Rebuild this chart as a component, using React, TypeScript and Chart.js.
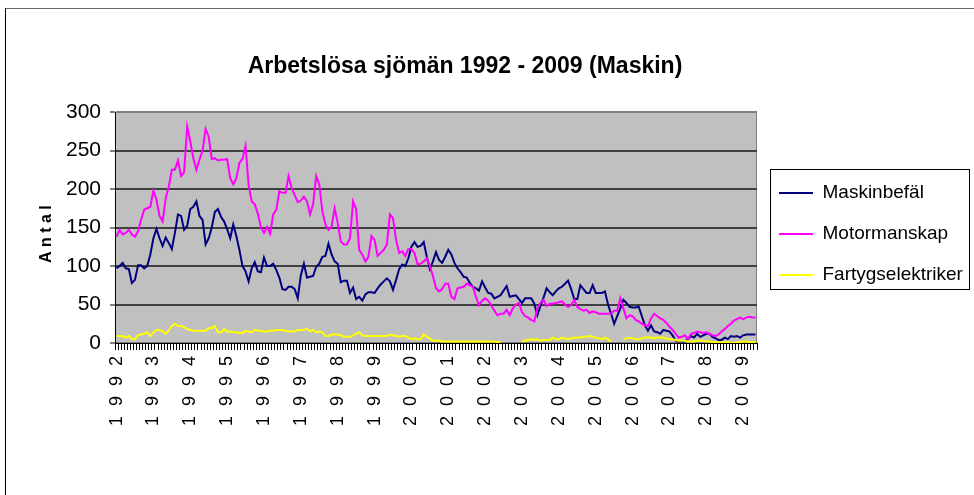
import React, { useEffect, useRef } from 'react';
import { Chart, registerables } from 'chart.js';

Chart.register(...registerables);

const FONT = "'Liberation Sans', Arial, sans-serif";

const years = [1992, 1993, 1994, 1995, 1996, 1997, 1998, 1999, 2000, 2001, 2002, 2003, 2004, 2005, 2006, 2007, 2008, 2009];

const seriesNames = ['Maskinbefäl', 'Motormanskap', 'Fartygselektriker'];

const maskinbefal = [
  97, 100, 104, 97, 96, 78, 82, 101, 101, 97, 100, 115,
  136, 148, 136, 126, 137, 130, 122, 143, 167, 165, 147, 152,
  174, 177, 184, 165, 160, 128, 136, 150, 170, 174, 164, 158,
  148, 136, 154, 139, 121, 100, 93, 80, 97, 105, 93, 92,
  111, 100, 100, 103, 95, 85, 70, 69, 73, 73, 70, 58,
  88, 103, 85, 86, 87, 99, 103, 112, 113, 129, 115, 106,
  103, 79, 81, 81, 65, 72, 57, 60, 55, 63, 66, 66,
  65, 71, 76, 80, 84, 80, 69, 82, 96, 102, 100, 110,
  125, 131, 125, 126, 131, 112, 96, 106, 118, 108, 104, 112,
  121, 115, 104, 97, 92, 86, 85, 78, 73, 71, 68, 80,
  72, 65, 64, 58, 60, 62, 68, 74, 60, 61, 62, 57,
  52, 58, 58, 58, 51, 36, 48, 59, 71, 66, 62, 67,
  71, 73, 77, 81, 70, 57, 57, 75, 70, 65, 65, 75,
  65, 65, 65, 67, 50, 38, 25, 35, 45, 56, 52, 47,
  46, 46, 47, 35, 23, 16, 23, 15, 14, 12, 17, 16,
  15, 10, 3, 2, 2, 2, 5, 9, 7, 12, 8, 10,
  12, 12, 8, 6, 4, 4, 7, 5, 9, 8, 9, 7,
  10, 11, 11, 11, 11,
];

const motormanskap = [
  138, 147, 141, 143, 147, 141, 138, 145, 160, 173, 175, 177,
  198, 186, 165, 158, 188, 203, 225, 225, 237, 217, 222, 281,
  262, 240, 225, 238, 250, 278, 268, 239, 240, 237, 238, 238,
  239, 214, 206, 214, 234, 239, 256, 205, 184, 180, 168, 150,
  143, 151, 142, 167, 173, 197, 195, 195, 217, 201, 192, 183,
  185, 190, 184, 167, 180, 217, 206, 171, 154, 147, 151, 175,
  156, 132, 128, 128, 136, 184, 174, 121, 115, 106, 112, 139,
  134, 113, 117, 121, 128, 167, 162, 134, 117, 119, 113, 122,
  122, 117, 102, 103, 106, 110, 100, 87, 71, 67, 70, 77,
  77, 60, 57, 71, 72, 73, 77, 75, 73, 60, 49, 55,
  58, 55, 49, 42, 36, 38, 38, 43, 36, 45, 50, 52,
  40, 35, 33, 30, 28, 45, 52, 56, 48, 51, 51, 52,
  53, 54, 50, 47, 49, 56, 47, 44, 42, 43, 39, 41,
  40, 38, 38, 38, 38, 38, 42, 42, 58, 45, 32, 36,
  35, 30, 28, 25, 23, 22, 32, 38, 35, 32, 30, 26,
  21, 17, 12, 7, 8, 10, 5, 12, 13, 15, 14, 13,
  14, 12, 10, 9, 11, 15, 18, 22, 25, 29, 31, 33,
  31, 33, 34, 33, 33,
];

const fartygselektriker = [
  9, 9, 9, 7, 9, 5, 5, 10, 11, 12, 14, 9,
  14, 17, 17, 15, 12, 16, 22, 25, 22, 22, 21, 18,
  17, 16, 16, 16, 16, 16, 19, 19, 22, 14, 14, 18,
  15, 15, 14, 14, 13, 13, 16, 15, 14, 17, 16, 16,
  15, 15, 16, 16, 17, 17, 17, 16, 15, 15, 15, 17,
  17, 17, 19, 15, 17, 14, 15, 14, 9, 9, 11, 11,
  11, 10, 8, 8, 8, 10, 12, 14, 10, 9, 9, 9,
  9, 9, 9, 9, 9, 11, 10, 9, 8, 9, 9, 7,
  5, 6, 5, 5, 11, 8, 6, 3, 3, 3, 2, 2,
  2, 2, 2, 2, 2, 2, 2, 2, 2, 2, 2, 2,
  2, 2, 2, 2, 1, 2, null, null, null, null, null, null,
  2, 3, 4, 5, 4, 5, 3, 4, 4, 4, 7, 5,
  5, 7, 6, 5, 6, 7, 7, 7, 8, 8, 9, 8,
  7, 6, 5, 7, 5, 2, null, null, null, 5, 6, 7,
  6, 5, 5, 6, 7, 7, 7, 6, 7, 7, 7, 6,
  5, 5, 4, 3, 3, 3, 2, 2, 2, 3, 3, 3,
  2, 2, 1, 1, 1, 1, 1, 1, 0, 0, 1, 1,
  2, 2, 1, 1, 1,
];

const months = maskinbefal.map((_, i) => `${years[Math.floor(i / 12)]}-${String((i % 12) + 1).padStart(2, '0')}`);

const spaced = (s: string) => s.split('').join('  ');

const LEGEND_FONT_SIZE = 19;
const LEGEND_PAD = 22;
const LEGEND_BOX_W = 34;

const plotBgPlugin = {
  id: 'plotBg',
  afterLayout(chart: any) {
    const t = chart.titleBlock;
    if (t) {
      t.left = 0;
      t.right = 930;
      t.width = 930;
    }
  },
  beforeDraw(chart: any) {
    const { ctx, chartArea } = chart;
    const { left, top, right, bottom } = chartArea;
    ctx.save();
    ctx.fillStyle = '#c0c0c0';
    ctx.fillRect(left, top, right - left, bottom - top);
    ctx.strokeStyle = '#808080';
    ctx.lineWidth = 1;
    ctx.strokeRect(Math.round(left) + 0.5, Math.round(top) + 0.5, Math.round(right - left) - 1, Math.round(bottom - top) - 1);
    ctx.restore();
  },
};

const legendBoxPlugin = {
  id: 'legendBox',
  afterDraw(chart: any) {
    const lg = chart.legend;
    if (!lg || !lg.legendHitBoxes || !lg.legendHitBoxes.length) return;
    const hb = lg.legendHitBoxes;
    const c0 = hb[0].top + hb[0].height / 2;
    const cn = hb[hb.length - 1].top + hb[hb.length - 1].height / 2;
    const x = 770.5;
    const y = Math.round(c0 - 24) + 0.5;
    const h = Math.round(cn + 14 - (c0 - 24));
    const { ctx } = chart;
    ctx.save();
    ctx.strokeStyle = '#000';
    ctx.lineWidth = 1;
    ctx.strokeRect(x, y, 199, h);
    ctx.restore();
  },
};

export default function App() {
  const ref = useRef<HTMLCanvasElement | null>(null);

  useEffect(() => {
    document.body.style.margin = '0';
    document.body.style.overflow = 'hidden';
    if (!ref.current) return;

    const mctx = document.createElement('canvas').getContext('2d') as CanvasRenderingContext2D;
    mctx.font = `${LEGEND_FONT_SIZE}px ${FONT}`;
    const maxText = Math.max(...seriesNames.map((n) => mctx.measureText(n).width));
    const legendW = LEGEND_PAD + LEGEND_BOX_W + LEGEND_FONT_SIZE / 2 + maxText + 10;
    const padRight = Math.max(0, 974 - 757 - legendW);

    const chart = new Chart(ref.current, {
      type: 'line',
      data: {
        labels: months,
        datasets: [
          { label: seriesNames[0], data: maskinbefal, borderColor: '#000080', backgroundColor: '#000080', borderWidth: 2, pointRadius: 0, tension: 0, fill: false, order: 3 },
          { label: seriesNames[1], data: motormanskap, borderColor: '#ff00ff', backgroundColor: '#ff00ff', borderWidth: 2, pointRadius: 0, tension: 0, fill: false, order: 2 },
          { label: seriesNames[2], data: fartygselektriker, borderColor: '#ffff00', backgroundColor: '#ffff00', borderWidth: 2, pointRadius: 0, tension: 0, fill: false, order: 1 },
        ],
      },
      options: {
        responsive: false,
        animation: false,
        events: [],
        layout: { padding: { left: 0, right: padRight, top: 0, bottom: 0 } },
        plugins: {
          title: {
            display: true,
            text: 'Arbetslösa sjömän 1992 - 2009 (Maskin)',
            color: '#000',
            font: { family: FONT, size: 23, weight: 'bold' },
            padding: { top: 53, bottom: 31.4 },
          },
          legend: {
            position: 'right',
            fullSize: false,
            align: 'center',
            title: { display: true, text: '', font: { size: 1 }, padding: { top: 6, bottom: 6 } },
            labels: {
              color: '#000',
              font: { family: FONT, size: LEGEND_FONT_SIZE },
              boxWidth: LEGEND_BOX_W,
              boxHeight: 0,
              padding: LEGEND_PAD,
              sort: (a: any, b: any) => a.datasetIndex - b.datasetIndex,
            },
          },
          tooltip: { enabled: false },
        },
        scales: {
          x: {
            type: 'category',
            offset: true,
            grid: { display: true, drawOnChartArea: false, drawTicks: true, tickLength: 7, color: '#000', lineWidth: 1, offset: true },
            border: { display: true, color: '#000', width: 1 },
            ticks: {
              autoSkip: false,
              maxRotation: 90,
              minRotation: 90,
              padding: 6,
              color: '#000',
              font: { family: FONT, size: 18 },
              callback: (_v: any, index: number) => (index % 12 === 0 ? spaced(String(years[index / 12])) : ''),
            },
            afterFit: (s: any) => { s.height = 152; },
          },
          y: {
            min: 0,
            max: 300,
            ticks: { stepSize: 50, color: '#000', font: { family: FONT, size: 21 }, padding: 9 },
            grid: {
              color: (c: any) => (c.tick && c.tick.value === 300 ? '#808080' : c.tick && c.tick.value === 0 ? 'rgba(0,0,0,0)' : '#404040'),
              lineWidth: 2,
              tickLength: 5,
              tickColor: '#000',
              tickWidth: 1,
            },
            border: { display: true, color: '#000', width: 1 },
            title: {
              display: true,
              text: 'A n t a l\u00a0\u00a0\u00a0',
              color: '#000',
              font: { family: FONT, size: 16, weight: 'bold' },
              padding: { top: 37, bottom: 0 },
            },
            afterFit: (s: any) => { s.width = 115; },
          },
        },
      },
      plugins: [plotBgPlugin, legendBoxPlugin],
    } as any);
    return () => chart.destroy();
  }, []);

  return (
    <div style={{ position: 'relative', width: 974, height: 495, overflow: 'hidden', background: '#fff' }}>
      <canvas ref={ref} width={974} height={495} style={{ display: 'block', width: 974, height: 495 }} />
      <div style={{ position: 'absolute', left: 5, top: 8, width: 1000, height: 600, borderLeft: '1px solid #000', borderTop: '1px solid #666', pointerEvents: 'none' }} />
    </div>
  );
}
